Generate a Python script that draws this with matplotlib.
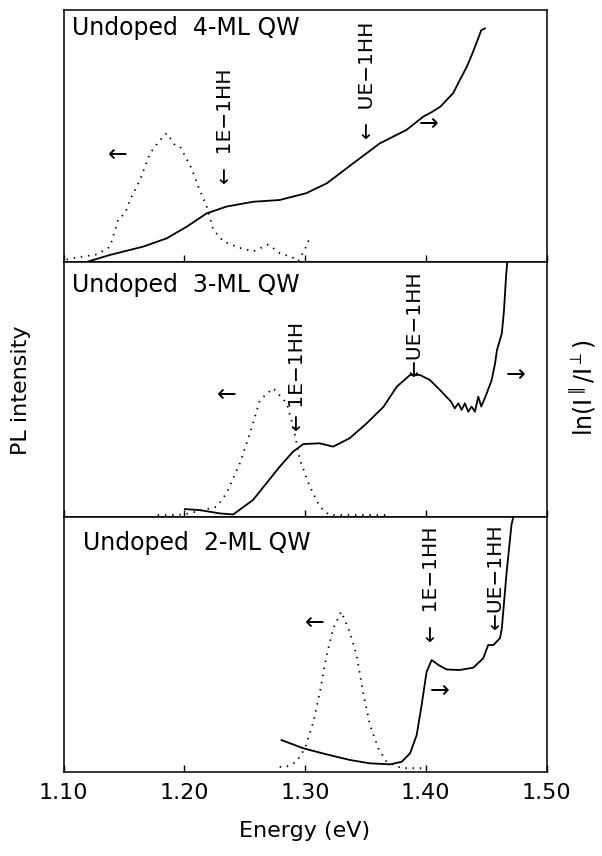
import matplotlib
matplotlib.use("Agg")
import matplotlib.pyplot as plt

plt.rcParams['font.family'] = ['DejaVu Sans']
plt.rcParams['mathtext.fontset'] = 'dejavusans'

# ---------------- data (normalized intensities per panel) ----------------
# Panel 1: Undoped 4-ML QW
e_ln4 = [1.119, 1.1385, 1.166, 1.1855, 1.202, 1.2186, 1.235, 1.257, 1.279, 1.301,
         1.318, 1.340, 1.362, 1.384, 1.398, 1.405, 1.412, 1.4227, 1.428, 1.434,
         1.438, 1.442, 1.446, 1.449]
ln4 = [0.00, 0.028, 0.061, 0.094, 0.14, 0.193, 0.22, 0.239, 0.246, 0.273,
       0.312, 0.392, 0.471, 0.524, 0.577, 0.595, 0.616, 0.67, 0.72, 0.775,
       0.82, 0.869, 0.92, 0.927]
e_pl4 = [1.1026, 1.1137, 1.1275, 1.1385, 1.1454, 1.151, 1.155, 1.1633, 1.1716, 1.18,
         1.1855, 1.1923, 1.1965, 1.206, 1.2116, 1.2186, 1.224, 1.2323, 1.246, 1.257,
         1.2696, 1.279, 1.290, 1.2944, 1.300, 1.304]
pl4 = [0.01, 0.02, 0.03, 0.06, 0.17, 0.193, 0.246, 0.325, 0.431, 0.484,
       0.511, 0.464, 0.458, 0.372, 0.299, 0.22, 0.128, 0.082, 0.056, 0.042,
       0.069, 0.036, 0.017, 0.003, 0.05, 0.097]

# Panel 2: Undoped 3-ML QW
e_ln3 = [1.2006, 1.213, 1.2296, 1.2406, 1.2475, 1.257, 1.268, 1.279, 1.290, 1.2986,
         1.312, 1.3234, 1.337, 1.351, 1.365, 1.376, 1.387, 1.3952, 1.4035, 1.4118,
         1.417, 1.421, 1.424, 1.427, 1.4297, 1.4324, 1.4352, 1.438, 1.4407, 1.4435,
         1.446, 1.4505, 1.4546, 1.4574, 1.459, 1.463, 1.4648, 1.4665, 1.4675]
ln3 = [0.031, 0.027, 0.014, 0.010, 0.034, 0.067, 0.132, 0.197, 0.256, 0.286,
       0.289, 0.276, 0.309, 0.367, 0.432, 0.511, 0.557, 0.557, 0.537, 0.498,
       0.472, 0.452, 0.426, 0.446, 0.420, 0.446, 0.413, 0.433, 0.413, 0.472,
       0.433, 0.485, 0.537, 0.602, 0.655, 0.72, 0.81, 0.943, 1.0]
e_pl3 = [1.178, 1.19, 1.2, 1.2268, 1.235, 1.246, 1.2544, 1.2627, 1.2737, 1.2848,
         1.2903, 1.2958, 1.304, 1.3124, 1.32, 1.34, 1.355, 1.37]
pl3 = [0.008, 0.008, 0.01, 0.04, 0.093, 0.21, 0.328, 0.459, 0.505, 0.446,
       0.354, 0.224, 0.119, 0.04, 0.008, 0.008, 0.008, 0.008]

# Panel 3: Undoped 2-ML QW
e_ln2 = [1.2806, 1.2986, 1.318, 1.3373, 1.3538, 1.3704, 1.38, 1.387, 1.3925, 1.3966,
         1.4007, 1.4049, 1.4104, 1.4173, 1.428, 1.4393, 1.4476, 1.4517, 1.456, 1.4615,
         1.463, 1.467, 1.471, 1.4725]
ln2 = [0.125, 0.093, 0.069, 0.047, 0.034, 0.030, 0.040, 0.073, 0.145, 0.263,
       0.393, 0.439, 0.420, 0.402, 0.400, 0.409, 0.446, 0.498, 0.498, 0.525,
       0.563, 0.785, 0.969, 1.0]
e_pl2 = [1.279, 1.2848, 1.293, 1.300, 1.307, 1.3124, 1.318, 1.3234, 1.330, 1.337,
         1.3427, 1.348, 1.3538, 1.3607, 1.3676, 1.38, 1.39, 1.40]
pl2 = [0.02, 0.021, 0.04, 0.093, 0.197, 0.315, 0.459, 0.563, 0.629, 0.55,
       0.459, 0.315, 0.184, 0.093, 0.04, 0.015, 0.015, 0.015]

titles = ["Undoped  4-ML QW", "Undoped  3-ML QW", "Undoped  2-ML QW"]
xticks = [1.10, 1.20, 1.30, 1.40, 1.50]
xticklabels = ["1.10", "1.20", "1.30", "1.40", "1.50"]

# annotations: (text, energy, y, rotation)
ann = [
    [("\u2190", 1.145, 0.425, 0), ("\u2190  1E\u22121HH", 1.234, 0.54, 90),
     ("\u2190  UE\u22121HH", 1.352, 0.72, 90), ("\u2192", 1.402, 0.55, 0)],
    [("\u2190", 1.235, 0.478, 0), ("\u2190 1E\u22121HH", 1.294, 0.553, 90),
     ("\u2190UE\u22121HH", 1.391, 0.76, 90), ("\u2192", 1.474, 0.557, 0)],
    [("\u2190", 1.3077, 0.584, 0), ("\u2190  1E\u22121HH", 1.405, 0.735, 90),
     ("\u2190UE\u22121HH", 1.458, 0.765, 90), ("\u2192", 1.4118, 0.32, 0)],
]

fig = plt.figure(figsize=(6.02, 8.56), dpi=100)
L, W = 63.5 / 602, 483 / 602
bounds = [(10, 262), (262, 517), (517, 772)]
series = [(e_ln4, ln4, e_pl4, pl4), (e_ln3, ln3, e_pl3, pl3), (e_ln2, ln2, e_pl2, pl2)]

for i, (top, bot) in enumerate(bounds):
    ax = fig.add_axes([L, 1 - bot / 856, W, (bot - top) / 856])
    eln, yln, epl, ypl = series[i]
    ax.plot(eln, yln, color='black', lw=1.3)
    ax.plot(epl, ypl, color='black', lw=1.3, linestyle=(0, (0.8, 3.2)))
    ax.set_xlim(1.10, 1.50)
    ax.set_ylim(0, 1)
    ax.set_yticks([])
    ax.set_xticks(xticks)
    ax.tick_params(axis='x', direction='in', length=5, width=1, top=False)
    if i < 2:
        ax.set_xticklabels([])
    else:
        ax.set_xticklabels(xticklabels, fontsize=16)
        ax.tick_params(axis='x', pad=8)
        ax.set_xlabel("Energy (eV)", fontsize=16, labelpad=13)
    for s in ax.spines.values():
        s.set_linewidth(1.1)
    tx = 0.018 if i < 2 else 0.04
    ty = 0.93 if i == 0 else (0.91 if i == 1 else 0.898)
    ax.text(tx, ty, titles[i], transform=ax.transAxes, fontsize=17,
            ha='left', va='center')
    for (t, xx, yy, rot) in ann[i]:
        ax.text(xx, yy, t, fontsize=14.5 if rot else 17, rotation=rot,
                ha='center', va='center')

fig.text(0.035, 1 - 390 / 856, "PL intensity", rotation=90, fontsize=16,
         ha='center', va='center')
fig.text(0.968, 1 - 388 / 856, r"$\mathrm{ln}(\mathrm{I}^{\parallel}/\mathrm{I}^{\perp})$",
         rotation=90, fontsize=17, ha='center', va='center')

fig.savefig("out.png", dpi=100)
